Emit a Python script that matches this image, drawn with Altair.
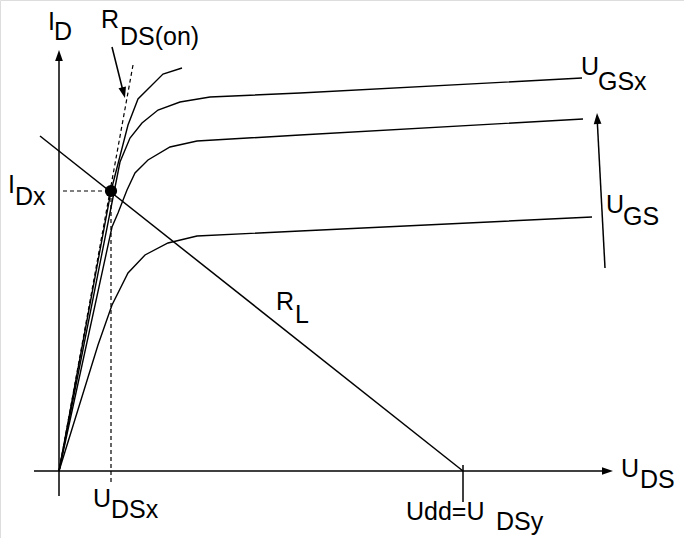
import altair as alt
import pandas as pd

# Coordinates: u = drain-source voltage (U_DS), i = drain current (I_D), arbitrary units.

# Output characteristics, one list of (u, i) points per gate voltage
curve_names = ["ugs4", "ugs3", "ugs2", "ugs1"]
curve_u = [
    [0, 52, 69, 79, 91, 104, 123],
    [0, 61, 71, 83, 99, 121, 151, 241, 523],
    [0, 53, 59, 68, 76, 89, 111, 138, 241, 524],
    [0, 39, 53, 69, 86, 109, 138, 241, 533],
]
curve_i = [
    [0, 280, 346, 372, 384, 397, 403],
    [0, 309, 333, 348, 361, 369, 374, 378, 393],
    [0, 244, 258, 281, 298, 311, 324, 330, 336, 352],
    [0, 126, 166, 198, 216, 228, 235, 240, 254],
]

# Solid straight segments: axes, load line, Udd tick, arrow shafts
seg_u1 = [0, -25, -19, 404, 53, 546]
seg_i1 = [-25, 0, 335, 6, 424, 203]
seg_u2 = [0, 545, 404, 404, 64, 538]
seg_i2 = [412, 0, 0, -31, 380, 355]

# Dashed segments: R_DS(on) slope, projections of the operating point
dash_u1 = [74, 4, 52]
dash_i1 = [406, 280, 280]
dash_u2 = [0, 52, 52]
dash_i2 = [0, 280, -12]

# Operating point
op_u = [52]
op_i = [280]

# Arrowheads (centre and direction in degrees)
head_u = [0, 548.5, 64.6, 538.3]
head_i = [415.5, 0, 378.3, 352.5]
head_angle = [0, 90, 165.7, 357]

# Labels: main symbol and its subscript
label_text = ["I", "D", "R", "DS(on)", "I", "Dx", "U", "DSx", "Udd=U", "DSy",
              "U", "DS", "U", "GSx", "U", "GS", "R", "L"]
label_u = [-11, -5, 42, 61, -51, -44, 34, 52, 347, 437,
           562, 581, 522, 539, 547, 564, 217, 236]
label_i = [441, 431, 443, 426, 278, 266, -36, -47, -49, -59,
           -6, -17, 396, 381, 258, 246, 161, 148]

font = "Liberation Sans"

xs = alt.Scale(domain=[-59, 625], nice=False, zero=False)
ys = alt.Scale(domain=[-67, 471], nice=False, zero=False)

curves = pd.DataFrame(
    [
        {"curve": name, "k": k, "u": u, "i": i}
        for name, us, is_ in zip(curve_names, curve_u, curve_i)
        for k, (u, i) in enumerate(zip(us, is_))
    ]
)
segs = pd.DataFrame({"u1": seg_u1, "i1": seg_i1, "u2": seg_u2, "i2": seg_i2})
dashes = pd.DataFrame({"u1": dash_u1, "i1": dash_i1, "u2": dash_u2, "i2": dash_i2})
op = pd.DataFrame({"u": op_u, "i": op_i})
heads = pd.DataFrame({"u": head_u, "i": head_i, "a": head_angle})
labels = pd.DataFrame({"t": label_text, "u": label_u, "i": label_i})

x = alt.X("u:Q", scale=xs, axis=None)
y = alt.Y("i:Q", scale=ys, axis=None)

curve_layer = alt.Chart(curves).mark_line(color="black", strokeWidth=1.4).encode(
    x=x, y=y, detail="curve:N", order="k:Q"
)

seg_layer = alt.Chart(segs).mark_rule(color="black", strokeWidth=1.5).encode(
    x=alt.X("u1:Q", scale=xs, axis=None),
    y=alt.Y("i1:Q", scale=ys, axis=None),
    x2="u2:Q",
    y2="i2:Q",
)

dash_layer = alt.Chart(dashes).mark_rule(
    color="black", strokeWidth=1.2, strokeDash=[4, 3]
).encode(
    x=alt.X("u1:Q", scale=xs, axis=None),
    y=alt.Y("i1:Q", scale=ys, axis=None),
    x2="u2:Q",
    y2="i2:Q",
)

op_layer = alt.Chart(op).mark_point(
    shape="circle", filled=True, color="black", opacity=1, size=150
).encode(x=x, y=y)

head_layer = alt.Chart(heads).mark_point(
    shape="M0,-1L0.7,1L-0.7,1Z", filled=True, color="black", opacity=1, size=121
).encode(x=x, y=y, angle=alt.Angle("a:Q", scale=None))

label_layer = alt.Chart(labels).mark_text(
    align="left", baseline="alphabetic", font=font, fontSize=25, color="black"
).encode(x=x, y=y, text="t:N")

chart = (
    alt.layer(curve_layer, seg_layer, dash_layer, op_layer, head_layer, label_layer)
    .properties(width=684, height=538, padding=0, autosize=alt.AutoSizeParams(type="none"))
    .configure_view(stroke=None)
    .configure(background="white")
)

chart.save("out.html", embed_options={"renderer": "svg", "actions": False})
